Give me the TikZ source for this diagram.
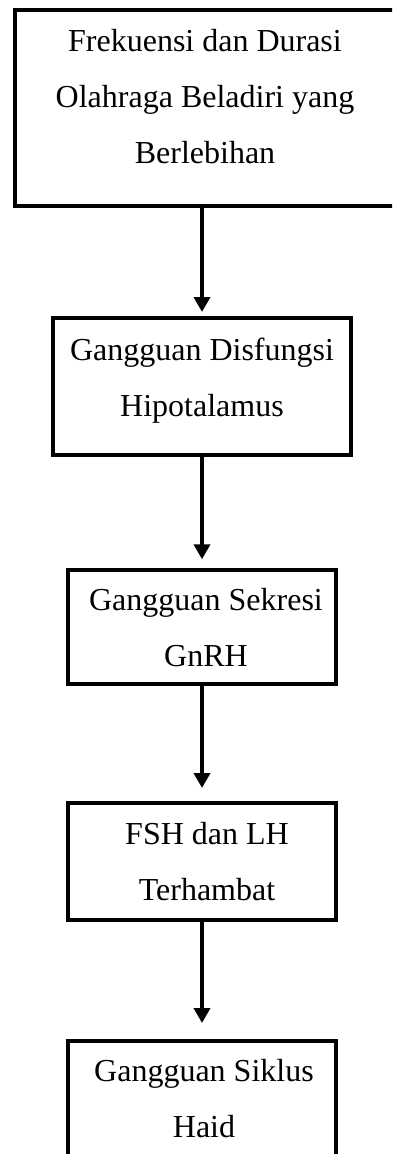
\documentclass[tikz,border=0pt]{standalone}
\usepackage{fontspec}
\setmainfont{Liberation Serif}
\usetikzlibrary{arrows.meta,positioning}

\begin{document}
\begin{tikzpicture}[x=1pt, y=-1pt, >={Triangle[length=15pt,width=16pt]},
    box/.style={draw, line width=4.3pt, outer sep=0pt, inner sep=0pt},
    txt/.style={align=center, inner sep=0pt, font=\fontsize{32}{56}\selectfont},
    flow/.style={->, line width=4.5pt}]
  \useasboundingbox (0,0) rectangle (392,1154);
  \clip (0,0) rectangle (392,1154);

  % Boxes
  \node[box, minimum width=382pt, minimum height=196pt] (b1) at (206,108) {};
  \node[box, minimum width=298pt, minimum height=137pt] (b2) at (202,386.5) {};
  \node[box, minimum width=268pt, minimum height=113.5pt] (b3) at (202,627) {};
  \node[box, minimum width=268pt, minimum height=117pt] (b4) at (202,861.5) {};
  \node[box, minimum width=268pt, minimum height=120pt] (b5) at (202,1101) {};

  % Labels
  \node[txt] (t1) at (205,97) {Frekuensi dan Durasi\\Olahraga Beladiri yang\\Berlebihan};
  \node[txt] (t2) at (202,381) {Gangguan Disfungsi\\Hipotalamus};
  \node[txt] (t3) at (206,627.5) {Gangguan Sekresi\\GnRH};
  \node[txt] (t4) at (207,861.5) {FSH dan LH\\Terhambat};
  \node[txt] (t5) at (204,1099) {Gangguan Siklus\\Haid};

  % Arrows
  \draw[flow, shorten >=6pt] (b1.south -| b2.north) -- (b2.north);
  \draw[flow, shorten >=11pt] (b2.south) -- (b3.north);
  \draw[flow, shorten >=15pt] (b3.south) -- (b4.north);
  \draw[flow, shorten >=18pt] (b4.south) -- (b5.north);

\end{tikzpicture}
\end{document}
